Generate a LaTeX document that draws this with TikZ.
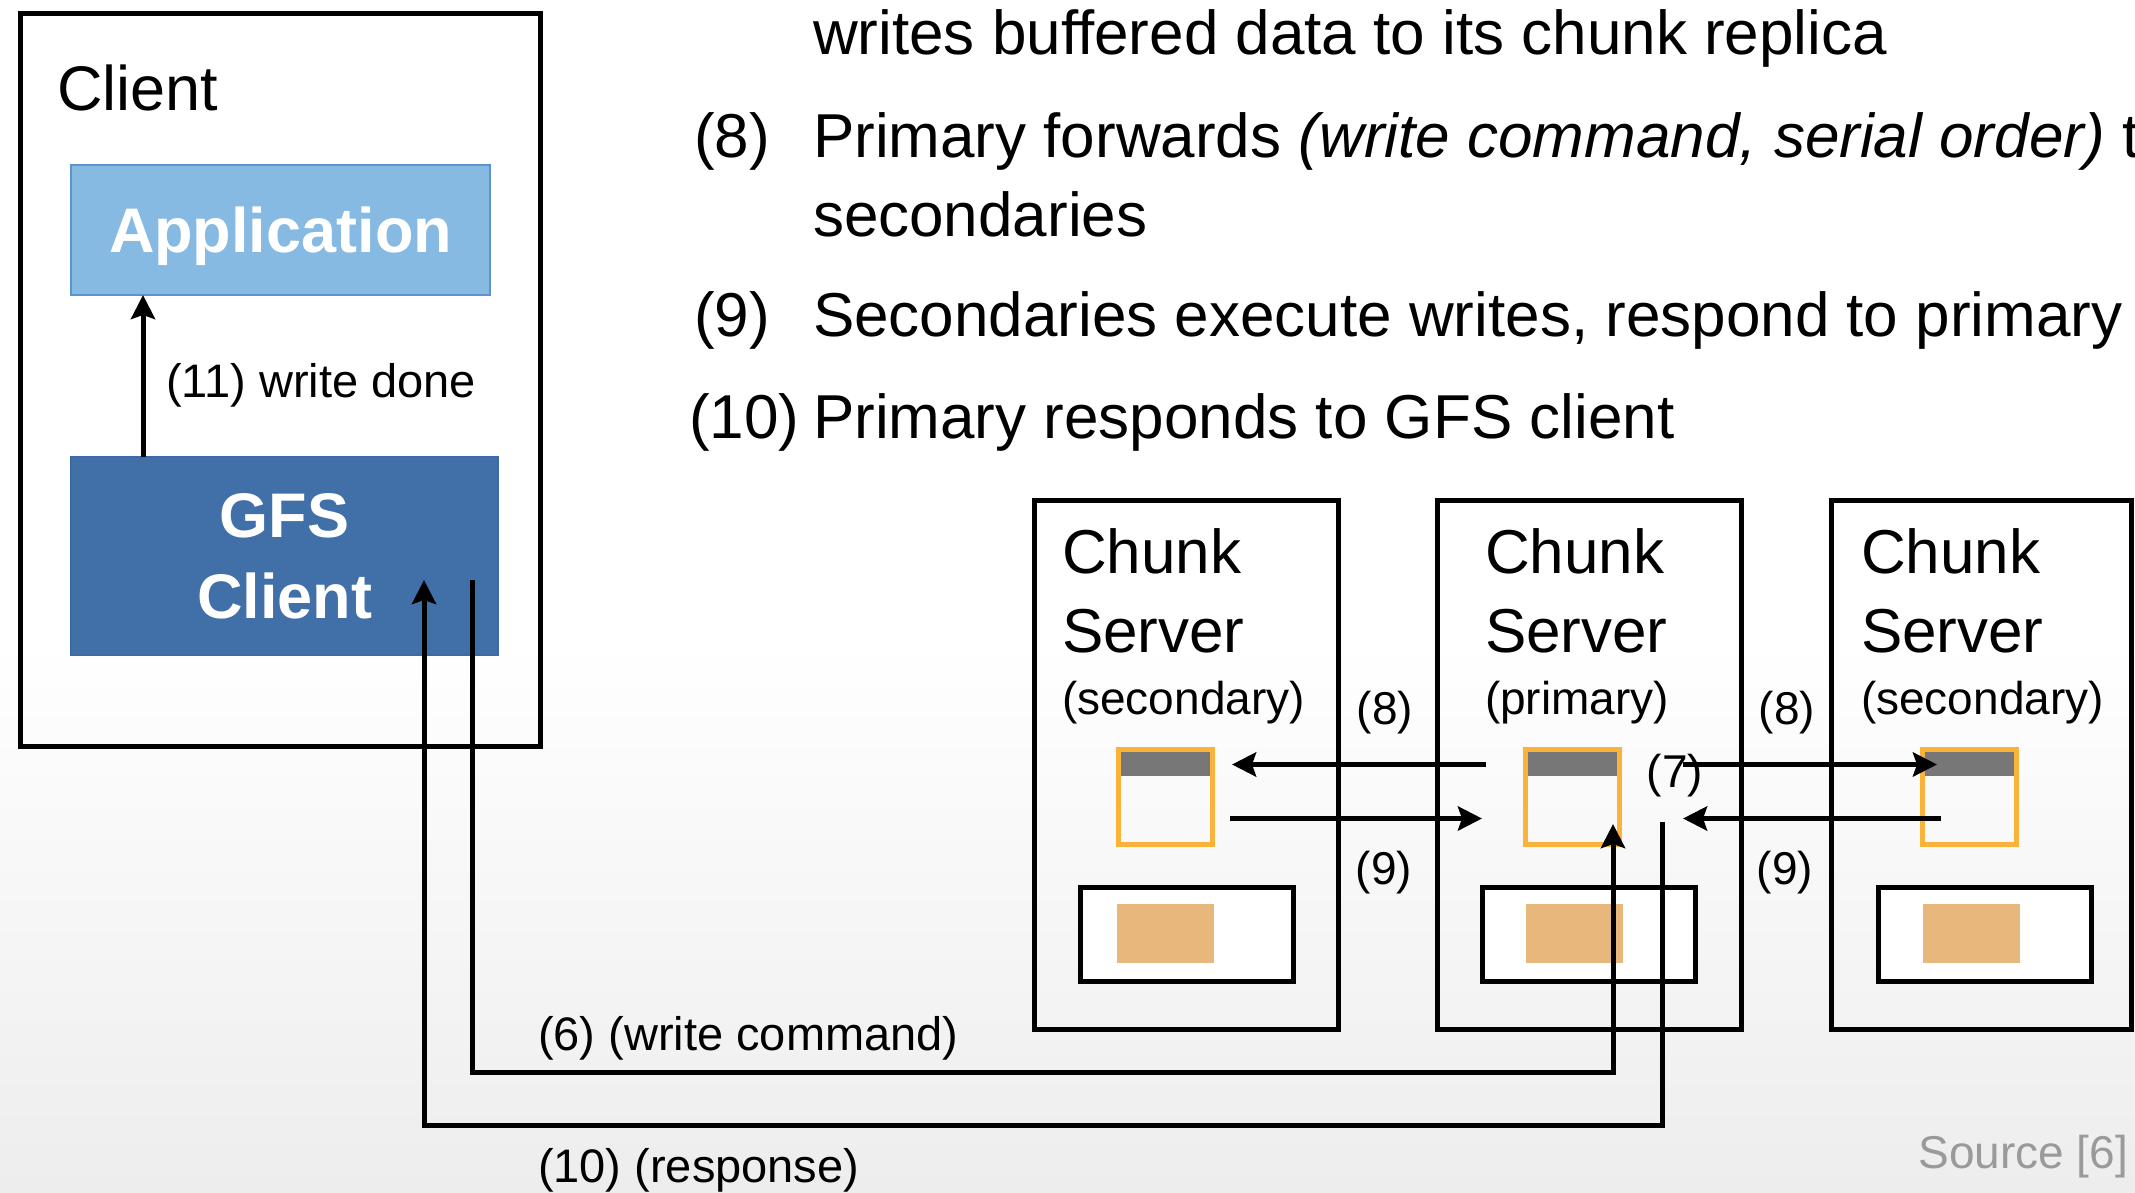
\documentclass[tikz,border=0pt]{standalone}
\usepackage{fontspec}
\setmainfont{Liberation Sans}
\usetikzlibrary{arrows.meta,calc}
\definecolor{appblue}{HTML}{86BAE2}
\definecolor{appedge}{HTML}{5B93CF}
\definecolor{gfsblue}{HTML}{4170A9}
\definecolor{gfsedge}{HTML}{3B6AA6}
\definecolor{bufor}{HTML}{F9B33B}
\definecolor{bufgray}{HTML}{777777}
\definecolor{disktan}{HTML}{E8B77B}
\definecolor{srcgray}{HTML}{9A9A9A}
\definecolor{bggray}{HTML}{EDEDED}
\newcommand\pxfont[1]{\fontsize{#1}{#1}\selectfont}
\begin{document}
\begin{tikzpicture}[x=1pt,y=-1pt,
  every node/.style={inner sep=0pt,outer sep=0pt},
  framebox/.style={draw=black,line width=5pt,rectangle,anchor=north west},
  appbox/.style={rectangle,anchor=north west,fill=appblue,draw=appedge,line width=1.5pt,
    text=white,font=\pxfont{63}\bfseries,text depth=0pt},
  gfsbox/.style={rectangle,anchor=north west,fill=gfsblue,draw=gfsedge,line width=1.5pt,
    text=white,font=\fontsize{63}{81}\selectfont\bfseries,align=center},
  bufbox/.style={rectangle,anchor=north west,draw=bufor,line width=5pt,
    minimum width=94pt,minimum height=95pt},
  diskbox/.style={rectangle,anchor=north west,draw=black,fill=white,line width=5pt,
    minimum width=213pt,minimum height=94pt},
  tanbox/.style={rectangle,anchor=north west,fill=disktan,minimum width=97pt,minimum height=59pt},
  listtext/.style={anchor=base west,font=\pxfont{62}},
  bigtext/.style={anchor=base west,font=\pxfont{62}},
  smalltext/.style={anchor=base west,font=\pxfont{47}},
  steplabel/.style={anchor=center,font=\pxfont{46}},
  arr/.style={line width=5pt,-{Stealth[length=24pt,width=24pt,inset=4pt]}},
  plainline/.style={line width=5pt}]
\useasboundingbox (0,0) rectangle (2135,1192);
\fill[white] (0,0) rectangle (2135,1192);
\shade[top color=white,bottom color=bggray] (0,640) rectangle (2135,1192);

% ---- text list (clipped at the right edge, as in the reference)
\begin{scope}
\clip (0,0) rectangle (2135,1192);
\node[listtext] (l7) at (813,54) {writes buffered data to its chunk replica};
\node[listtext] (n8) at (694,157) {(8)};
\node[listtext] (l8) at (813,157) {Primary forwards \textit{(write command, serial order)} to};
\node[listtext] (l8b) at (813,236) {secondaries};
\node[listtext] (n9) at (694,336) {(9)};
\node[listtext] (l9) at (813,336) {Secondaries execute writes, respond to primary};
\node[listtext] (n10) at (689,438) {(10)};
\node[listtext] (l10) at (813,438) {Primary responds to GFS client};
\end{scope}

% ---- client side
\node[framebox,minimum width=520pt,minimum height=733pt] (client) at (20,13) {};
\node[bigtext,font=\pxfont{63}] (clientlbl) at (57,110) {Client};
\node[appbox,minimum width=419pt,minimum height=130pt] (app) at (71,165) {Application};
\node[gfsbox,minimum width=427pt,minimum height=198pt] (gfs) at (71,457) {GFS\\Client};

% ---- chunk servers
\node[framebox,minimum width=304pt,minimum height=529pt] (cs1) at (1034,500) {};
\node[framebox,minimum width=304pt,minimum height=529pt] (cs2) at (1437,500) {};
\node[framebox,minimum width=300pt,minimum height=529pt] (cs3) at (1831,500) {};

\node[bigtext] (cs1a) at (1062,573) {Chunk};
\node[bigtext] (cs1b) at (1062,652) {Server};
\node[smalltext,font=\pxfont{46}] (cs1c) at (1062,714) {(secondary)};
\node[bigtext] (cs2a) at (1485,573) {Chunk};
\node[bigtext] (cs2b) at (1485,652) {Server};
\node[smalltext,font=\pxfont{46}] (cs2c) at (1485,714) {(primary)};
\node[bigtext] (cs3a) at (1861,573) {Chunk};
\node[bigtext] (cs3b) at (1861,652) {Server};
\node[smalltext,font=\pxfont{46}] (cs3c) at (1861,714) {(secondary)};

% buffers
\fill[bufgray] (1120,752) rectangle (1212,776);
\fill[bufgray] (1527,752) rectangle (1622,776);
\fill[bufgray] (1924,752) rectangle (2019,776);
\node[bufbox] (lbuf) at (1118,749) {};
\node[bufbox] (pbuf) at (1525,749) {};
\node[bufbox] (rbuf) at (1922,749) {};

% disks
\node[diskbox] (ldisk) at (1080,887) {};
\node[diskbox] (pdisk) at (1482,887) {};
\node[diskbox] (rdisk) at (1878,887) {};
\node[tanbox] (ltan) at (1117,904) {};
\node[tanbox] (ptan) at (1526,904) {};
\node[tanbox] (rtan) at (1923,904) {};

% ---- connectors
\draw[arr] ([xshift=72pt]gfs.north west) -- ([xshift=72pt]app.south west);
\draw[arr] ($(gfs.north east)+(-26,123)$) -- ++(0,492) -| ($(pbuf.south)+(41,-20)$);
\draw[arr] ($(pbuf.south east)+(43,-22)$) -- ++(0,303) -| ($(gfs.north east)+(-74,123)$);

\draw[arr] ($(pbuf.west)+(-39,-32)$) -- ($(lbuf.east)+(20,-32)$);
\draw[arr] ($(pbuf.east)+(64,-32)$) -- ($(rbuf.west)+(15,-32)$);
\draw[arr] ($(lbuf.east)+(18,22)$) -- ($(pbuf.west)+(-43,22)$);
\draw[arr] ($(rbuf.west)+(19,22)$) -- ($(pbuf.east)+(64,22)$);

% ---- labels
\node[smalltext] (lbl11) at (166,397) {(11) write done};
\node[smalltext] (lbl6) at (538,1050) {(6) (write command)};
\node[smalltext] (lbl10) at (538,1182) {(10) (response)};
\node[steplabel] (lbl8a) at (1385,713) {(8)};
\node[steplabel] (lbl8b) at (1787,713) {(8)};
\node[steplabel] (lbl9a) at (1384,873) {(9)};
\node[steplabel] (lbl9b) at (1785,873) {(9)};
\node[steplabel] (lbl7) at (1675,776) {(7)};
\node[anchor=base east,font=\pxfont{46},text=srcgray] (src) at (2128,1168) {Source [6]};
\end{tikzpicture}
\end{document}
